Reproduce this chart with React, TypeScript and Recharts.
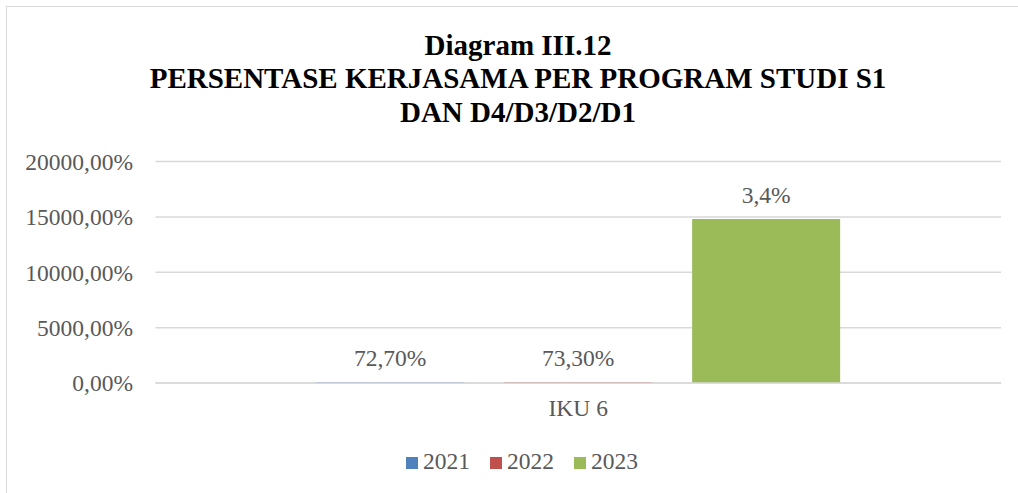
import React from 'react';
import { BarChart, Bar, XAxis, YAxis, CartesianGrid, Legend, LabelList } from 'recharts';

const categories = ['IKU 6'];
const seriesNames = ['2021', '2022', '2023'];
const seriesColors = ['#4f81bd', '#c0504d', '#9bbb59'];
const values2021 = [72.7];
const values2022 = [73.3];
const values2023 = [14800];
const labels2021 = ['72,70%'];
const labels2022 = ['73,30%'];
const labels2023 = ['3,4%'];
const yTicks = [0, 5000, 10000, 15000, 20000];
const titleLines = ['Diagram III.12', 'PERSENTASE KERJASAMA PER PROGRAM STUDI S1', 'DAN D4/D3/D2/D1'];

const data = categories.map((c, i) => ({
  name: c,
  v2021: values2021[i],
  v2022: values2022[i],
  v2023: values2023[i],
  l2021: labels2021[i],
  l2022: labels2022[i],
  l2023: labels2023[i],
}));

const FONT = '"Liberation Serif", "Times New Roman", serif';
const TEXT = '#595959';
const FS = 23.5;

const LegendContent = (props: any) => {
  const payload = props.payload || [];
  return (
    <div style={{ display: 'flex', justifyContent: 'center', paddingLeft: 26, boxSizing: 'border-box', width: '100%' }}>
      {payload.map((p: any, i: number) => (
        <div key={i} style={{ display: 'flex', alignItems: 'flex-start', marginRight: i < payload.length - 1 ? 20 : 0 }}>
          <span style={{ display: 'inline-block', width: 12, height: 12, background: p.color, marginTop: 6.5, marginRight: 5 }} />
          <span style={{ fontFamily: FONT, fontSize: FS, lineHeight: `${FS}px`, color: TEXT }}>{p.value}</span>
        </div>
      ))}
    </div>
  );
};

export default function App() {
  return (
    <div style={{ position: 'fixed', left: 0, top: 0, width: 1018, height: 493, overflow: 'hidden', background: '#fff' }}>
      <div style={{ position: 'absolute', left: 6, top: 6, width: 1100, height: 600, border: '1.5px solid #d9d9d9' }} />
      <div style={{ position: 'absolute', left: 0, top: 28.5, width: 1018, paddingLeft: 18, boxSizing: 'border-box', textAlign: 'center', fontFamily: FONT, fontWeight: 'bold', fontSize: 29, lineHeight: '33.5px', color: '#000' }}>
        {titleLines.map((t, i) => (
          <div key={i}>{t}</div>
        ))}
      </div>
      <div style={{ position: 'absolute', left: 0, top: 0 }}>
        <BarChart
          width={1018}
          height={493}
          data={data}
          margin={{ top: 161.5, right: 17, bottom: 80, left: 0 }}
          barCategoryGap="19%"
          barGap={40}
        >
          <CartesianGrid vertical={false} stroke="#d9d9d9" strokeWidth={1.5} />
          <XAxis
            dataKey="name"
            height={30}
            axisLine={{ stroke: '#d9d9d9', strokeWidth: 1.5 }}
            tickLine={false}
            tickMargin={10}
            tick={{ fill: TEXT, fontFamily: FONT, fontSize: FS }}
          />
          <YAxis
            width={155.5}
            domain={[0, 20000]}
            ticks={yTicks}
            axisLine={false}
            tickLine={false}
            tickMargin={16.5}
            tickFormatter={(v: number) => `${v},00%`}
            tick={{ fill: TEXT, fontFamily: FONT, fontSize: FS }}
          />
          <Legend
            verticalAlign="middle"
            align="center"
            wrapperStyle={{ top: 450, left: 0, width: 1018 }}
            content={<LegendContent />}
          />
          <Bar dataKey="v2021" name={seriesNames[0]} fill={seriesColors[0]} isAnimationActive={false}>
            <LabelList dataKey="l2021" position="top" offset={16} fill={TEXT} fontFamily={FONT} fontSize={FS} />
          </Bar>
          <Bar dataKey="v2022" name={seriesNames[1]} fill={seriesColors[1]} isAnimationActive={false}>
            <LabelList dataKey="l2022" position="top" offset={16} fill={TEXT} fontFamily={FONT} fontSize={FS} />
          </Bar>
          <Bar dataKey="v2023" name={seriesNames[2]} fill={seriesColors[2]} isAnimationActive={false}>
            <LabelList dataKey="l2023" position="top" offset={16} fill={TEXT} fontFamily={FONT} fontSize={FS} />
          </Bar>
        </BarChart>
      </div>
    </div>
  );
}
